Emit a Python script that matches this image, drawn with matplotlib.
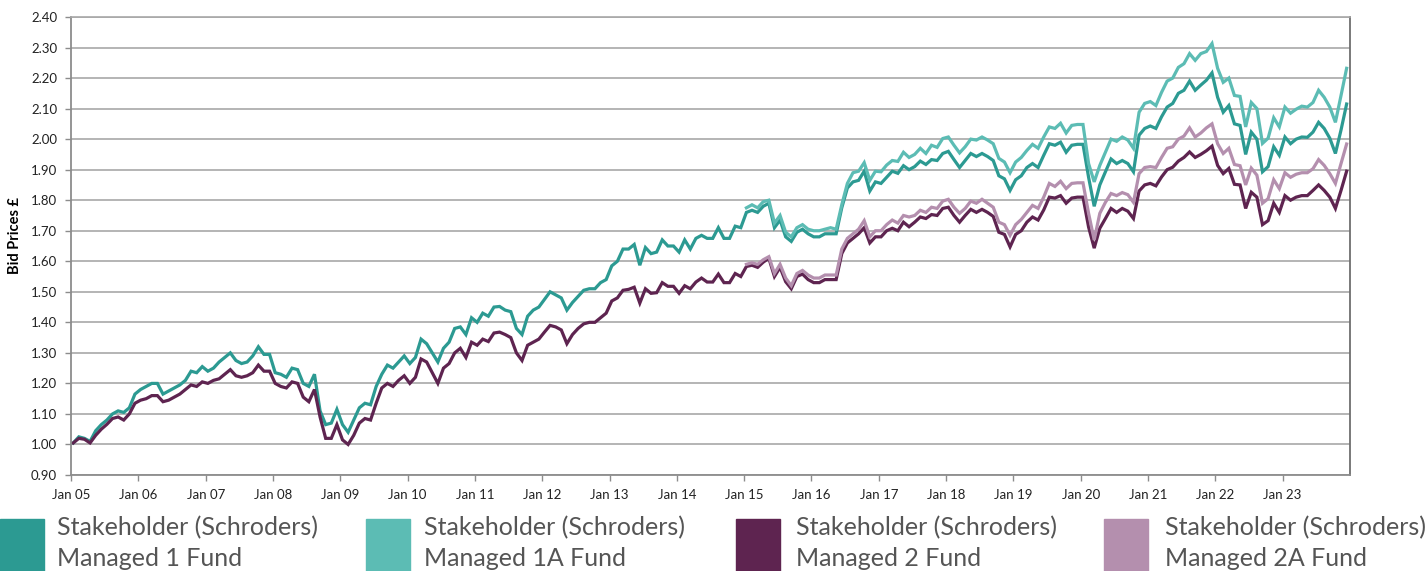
import matplotlib.pyplot as plt
from matplotlib.patches import Rectangle

# monthly bid prices, Jan 05 .. Dec 23 (one row per year)
fund1 = [
    1.005, 1.025, 1.02, 1.01, 1.045, 1.065, 1.08, 1.10, 1.11, 1.105, 1.12, 1.165,   # 05
    1.18, 1.19, 1.20, 1.20, 1.165, 1.175, 1.185, 1.195, 1.21, 1.24, 1.235, 1.255,   # 06
    1.24, 1.25, 1.27, 1.285, 1.30, 1.275, 1.265, 1.27, 1.29, 1.32, 1.295, 1.295,    # 07
    1.235, 1.23, 1.22, 1.25, 1.245, 1.20, 1.19, 1.23, 1.11, 1.065, 1.07, 1.115,     # 08
    1.065, 1.04, 1.08, 1.12, 1.135, 1.13, 1.19, 1.23, 1.26, 1.25, 1.27, 1.29,       # 09
    1.265, 1.285, 1.345, 1.33, 1.30, 1.27, 1.315, 1.335, 1.38, 1.385, 1.36, 1.415,  # 10
    1.40, 1.43, 1.42, 1.45, 1.452, 1.44, 1.435, 1.38, 1.36, 1.42, 1.44, 1.45,       # 11
    1.475, 1.50, 1.49, 1.48, 1.44, 1.465, 1.485, 1.505, 1.51, 1.51, 1.53, 1.54,     # 12
    1.585, 1.60, 1.64, 1.64, 1.655, 1.587, 1.645, 1.625, 1.63, 1.67, 1.65, 1.65,    # 13
    1.63, 1.67, 1.64, 1.675, 1.685, 1.675, 1.675, 1.71, 1.675, 1.675, 1.715, 1.71,  # 14
    1.76, 1.767, 1.76, 1.78, 1.79, 1.71, 1.735, 1.68, 1.665, 1.695, 1.705, 1.69,    # 15
    1.68, 1.68, 1.69, 1.69, 1.69, 1.775, 1.84, 1.86, 1.865, 1.895, 1.83, 1.86,      # 16
    1.855, 1.875, 1.895, 1.888, 1.913, 1.90, 1.91, 1.928, 1.917, 1.933, 1.93, 1.953,  # 17
    1.96, 1.933, 1.907, 1.93, 1.953, 1.943, 1.953, 1.943, 1.93, 1.88, 1.87, 1.832,  # 18
    1.867, 1.88, 1.907, 1.92, 1.907, 1.947, 1.985, 1.98, 1.99, 1.957, 1.98, 1.983,  # 19
    1.983, 1.875, 1.78, 1.85, 1.893, 1.935, 1.92, 1.93, 1.92, 1.893, 2.013, 2.035,  # 20
    2.043, 2.035, 2.073, 2.105, 2.117, 2.15, 2.16, 2.19, 2.16, 2.177, 2.193, 2.217,  # 21
    2.137, 2.088, 2.11, 2.05, 2.045, 1.95, 2.023, 2.0, 1.893, 1.91, 1.975, 1.947,   # 22
    2.007, 1.985, 2.0, 2.007, 2.006, 2.023, 2.055, 2.035, 2.003, 1.953, 2.03, 2.115,  # 23
]

fund2 = [
    1.005, 1.02, 1.017, 1.005, 1.03, 1.05, 1.066, 1.085, 1.09, 1.08, 1.10, 1.135,   # 05
    1.145, 1.15, 1.16, 1.16, 1.14, 1.145, 1.155, 1.165, 1.18, 1.195, 1.19, 1.205,   # 06
    1.20, 1.21, 1.215, 1.23, 1.245, 1.225, 1.22, 1.225, 1.235, 1.26, 1.24, 1.24,    # 07
    1.20, 1.19, 1.185, 1.205, 1.20, 1.155, 1.14, 1.18, 1.09, 1.02, 1.02, 1.065,     # 08
    1.015, 1.00, 1.03, 1.07, 1.085, 1.08, 1.135, 1.185, 1.20, 1.19, 1.21, 1.225,    # 09
    1.20, 1.22, 1.28, 1.27, 1.235, 1.20, 1.25, 1.265, 1.30, 1.315, 1.285, 1.335,    # 10
    1.325, 1.345, 1.337, 1.365, 1.368, 1.36, 1.35, 1.30, 1.275, 1.325, 1.335, 1.345,  # 11
    1.368, 1.39, 1.385, 1.375, 1.33, 1.36, 1.38, 1.395, 1.40, 1.40, 1.415, 1.43,    # 12
    1.47, 1.48, 1.505, 1.508, 1.515, 1.463, 1.51, 1.495, 1.497, 1.53, 1.518, 1.518,  # 13
    1.495, 1.52, 1.51, 1.532, 1.545, 1.532, 1.532, 1.558, 1.53, 1.53, 1.56, 1.55,   # 14
    1.583, 1.587, 1.58, 1.597, 1.61, 1.55, 1.58, 1.533, 1.51, 1.55, 1.558, 1.54,    # 15
    1.53, 1.53, 1.54, 1.54, 1.54, 1.625, 1.66, 1.675, 1.69, 1.71, 1.66, 1.68,       # 16
    1.68, 1.70, 1.708, 1.70, 1.728, 1.713, 1.728, 1.745, 1.74, 1.753, 1.75, 1.773,  # 17
    1.777, 1.75, 1.728, 1.75, 1.77, 1.76, 1.77, 1.76, 1.747, 1.695, 1.688, 1.647,   # 18
    1.688, 1.70, 1.728, 1.745, 1.735, 1.768, 1.81, 1.807, 1.815, 1.79, 1.807, 1.81,  # 19
    1.81, 1.712, 1.643, 1.708, 1.74, 1.773, 1.76, 1.773, 1.764, 1.74, 1.83, 1.85,   # 20
    1.855, 1.847, 1.876, 1.90, 1.908, 1.928, 1.94, 1.958, 1.94, 1.95, 1.962, 1.977,  # 21
    1.914, 1.887, 1.904, 1.852, 1.85, 1.773, 1.826, 1.81, 1.72, 1.733, 1.79, 1.76,  # 22
    1.815, 1.80, 1.81, 1.815, 1.815, 1.832, 1.85, 1.832, 1.81, 1.773, 1.832, 1.895,  # 23
]

# the A funds start in Jan 15
a_start = 120
fund1a = [
    1.775, 1.785, 1.775, 1.795, 1.80, 1.725, 1.75, 1.695, 1.68, 1.71, 1.72, 1.705,  # 15
    1.70, 1.70, 1.705, 1.71, 1.705, 1.785, 1.855, 1.89, 1.895, 1.923, 1.865, 1.895,  # 16
    1.893, 1.915, 1.93, 1.927, 1.957, 1.94, 1.95, 1.97, 1.953, 1.98, 1.973, 2.002,  # 17
    2.007, 1.98, 1.955, 1.975, 2.00, 1.997, 2.007, 1.997, 1.985, 1.937, 1.925, 1.89,  # 18
    1.925, 1.94, 1.963, 1.983, 1.97, 2.007, 2.04, 2.035, 2.052, 2.02, 2.045, 2.048,  # 19
    2.048, 1.92, 1.86, 1.914, 1.957, 2.00, 1.993, 2.007, 1.997, 1.97, 2.088, 2.117,  # 20
    2.123, 2.11, 2.153, 2.19, 2.20, 2.235, 2.247, 2.28, 2.258, 2.28, 2.287, 2.313,  # 21
    2.232, 2.186, 2.20, 2.143, 2.14, 2.04, 2.12, 2.10, 1.986, 2.003, 2.07, 2.04,    # 22
    2.105, 2.085, 2.098, 2.108, 2.105, 2.12, 2.16, 2.137, 2.105, 2.055, 2.143, 2.232,  # 23
]

fund2a = [
    1.59, 1.595, 1.59, 1.605, 1.615, 1.56, 1.59, 1.545, 1.52, 1.56, 1.57, 1.555,    # 15
    1.545, 1.545, 1.555, 1.555, 1.555, 1.64, 1.675, 1.69, 1.705, 1.733, 1.68, 1.70,  # 16
    1.70, 1.72, 1.735, 1.725, 1.75, 1.745, 1.75, 1.767, 1.76, 1.777, 1.773, 1.797,  # 17
    1.803, 1.777, 1.757, 1.773, 1.797, 1.79, 1.803, 1.79, 1.777, 1.728, 1.72, 1.685,  # 18
    1.72, 1.737, 1.76, 1.783, 1.773, 1.81, 1.855, 1.845, 1.862, 1.838, 1.855, 1.857,  # 19
    1.857, 1.757, 1.67, 1.757, 1.793, 1.822, 1.815, 1.825, 1.818, 1.793, 1.887, 1.907,  # 20
    1.91, 1.907, 1.94, 1.97, 1.975, 2.0, 2.01, 2.037, 2.007, 2.02, 2.037, 2.05,     # 21
    1.985, 1.953, 1.97, 1.917, 1.913, 1.85, 1.905, 1.882, 1.79, 1.805, 1.867, 1.838,  # 22
    1.89, 1.875, 1.885, 1.89, 1.89, 1.903, 1.933, 1.914, 1.887, 1.855, 1.92, 1.984,  # 23
]

years = ['05', '06', '07', '08', '09', '10', '11', '12', '13', '14',
         '15', '16', '17', '18', '19', '20', '21', '22', '23']
tick_labels = ['Jan ' + y for y in years]

names = ['Stakeholder (Schroders)\nManaged 1 Fund',
         'Stakeholder (Schroders)\nManaged 1A Fund',
         'Stakeholder (Schroders)\nManaged 2 Fund',
         'Stakeholder (Schroders)\nManaged 2A Fund']
colors = ['#2c9a92', '#5cbcb4', '#5e2450', '#b48fae']


if __name__ == '__main__':
    plt.rcParams['font.family'] = ['Lato', 'DejaVu Sans']

    W, H = 1426, 571
    fig = plt.figure(figsize=(W / 100, H / 100), dpi=100)
    ax = fig.add_axes([71 / W, 1 - 475 / H, (1350 - 71) / W, (475 - 17) / H])

    months = list(range(len(fund1)))
    months_a = list(range(a_start, a_start + len(fund1a)))
    ax.plot(months, fund1, color=colors[0], lw=2.3, solid_joinstyle='miter')
    ax.plot(months_a, fund1a, color=colors[1], lw=2.3, solid_joinstyle='miter')
    ax.plot(months, fund2, color=colors[2], lw=2.3, solid_joinstyle='miter')
    ax.plot(months_a, fund2a, color=colors[3], lw=2.3, solid_joinstyle='miter')

    ax.set_xlim(-0.4, 227.6)
    ax.set_ylim(0.9, 2.4)
    yt = [0.9 + 0.1 * i for i in range(16)]
    ax.set_yticks(yt)
    ax.set_yticklabels(['%.2f' % v for v in yt], fontsize=9.5, color='#222222')
    ax.set_xticks([12 * i - 0.4 for i in range(len(years))])
    ax.set_xticklabels(tick_labels, fontsize=9.5, color='#222222')
    ax.tick_params(axis='both', length=4, width=1, color='#8c8c8c', pad=6)
    ax.grid(axis='y', color='#a8a8a8', lw=1.2)
    ax.set_axisbelow(True)
    for side in ['left', 'bottom']:
        ax.spines[side].set_color('#8c8c8c')
        ax.spines[side].set_linewidth(1.3)
    ax.spines['top'].set_color('#a8a8a8')
    ax.spines['top'].set_linewidth(1.2)
    ax.spines['right'].set_color('#6e6e6e')
    ax.spines['right'].set_linewidth(1.3)

    fig.text(15 / W, 1 - 236 / H, 'Bid Prices £', rotation=90, ha='center',
             va='center', fontsize=10.5, fontweight='bold')

    # legend row along the bottom
    sw_x = [0, 366, 736, 1104]
    tx_x = [57, 424, 796, 1165]
    for i in range(4):
        fig.add_artist(Rectangle((sw_x[i] / W, 0), 44 / W, 52 / H,
                                 transform=fig.transFigure, color=colors[i]))
        l1, l2 = names[i].split('\n')
        fig.text(tx_x[i] / W, 1 - 528 / H, l1, fontsize=18, color='#555555',
                 ha='left', va='center')
        fig.text(tx_x[i] / W, 1 - 558 / H, l2, fontsize=18, color='#555555',
                 ha='left', va='center')

    fig.savefig('out.png', dpi=100)
    print("OK")
